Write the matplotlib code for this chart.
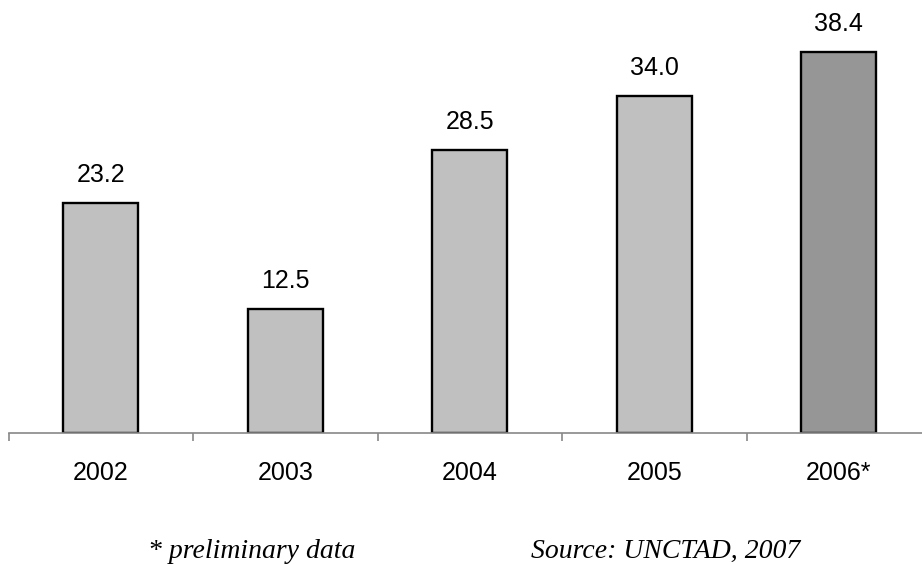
import matplotlib
matplotlib.use('Agg')
import matplotlib.pyplot as plt

years = ['2002', '2003', '2004', '2005', '2006*']
values = [23.2, 12.5, 28.5, 34.0, 38.4]
colors = ['#c0c0c0', '#c0c0c0', '#c0c0c0', '#c0c0c0', '#969696']

fig = plt.figure(figsize=(9.22, 5.64), dpi=100)
ax = fig.add_axes([8.5/922, 1-433/564, 922.5/922, 433/564])
x = range(len(years))
ax.bar(x, values, width=0.406, color=colors, edgecolor='black', linewidth=1.7)
for xi, v in zip(x, values):
    ax.annotate('%.1f' % v, (xi, v), xytext=(0, 11.5), textcoords='offset points',
                ha='center', va='bottom', fontsize=18, family='Liberation Sans')

ax.set_xlim(-0.5, 4.5)
ax.set_ylim(0, 433/9.92)
for s in ['top', 'right', 'left']:
    ax.spines[s].set_visible(False)
ax.spines['bottom'].set_color('#888888')
ax.spines['bottom'].set_linewidth(1.2)
ax.set_yticks([])
ax.set_xticks([i - 0.5 for i in range(6)], minor=False)
ax.set_xticklabels([])
ax.tick_params(axis='x', which='major', length=6, width=1.2, color='#888888')
ax.set_xticks(list(x), minor=True)
ax.set_xticklabels(years, minor=True, fontsize=18, family='Liberation Sans')
ax.tick_params(axis='x', which='minor', length=0, pad=20)

fig.text(148/922, 1-558/564, '* preliminary data', fontsize=20, style='italic',
         family='Liberation Serif', va='baseline', ha='left')
fig.text(531/922, 1-558/564, 'Source: UNCTAD, 2007', fontsize=20, style='italic',
         family='Liberation Serif', va='baseline', ha='left')

fig.savefig('out.png', dpi=100)
